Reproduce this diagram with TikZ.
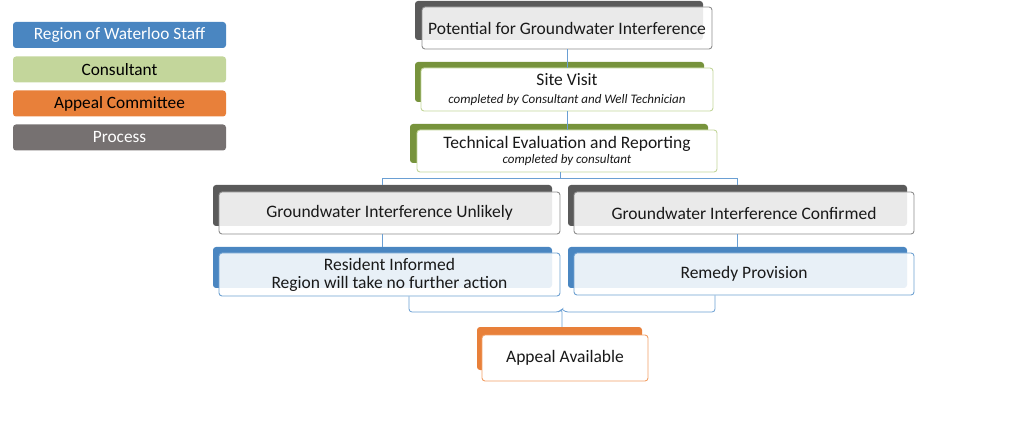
\documentclass[tikz,border=0pt]{standalone}
\usepackage{fontspec}
\setmainfont{Carlito}
\usetikzlibrary{calc}
\definecolor{procD}{HTML}{5A5A5A}
\definecolor{procL}{HTML}{767171}
\definecolor{procE}{HTML}{8E8E8E}
\definecolor{consD}{HTML}{77933C}
\definecolor{consL}{HTML}{C3D69B}
\definecolor{staffD}{HTML}{4A86C1}
\definecolor{staffE}{HTML}{6FA1D2}
\definecolor{appD}{HTML}{E8803A}
\definecolor{appE}{HTML}{F2A066}
\definecolor{connC}{HTML}{6A9FD3}
\newcommand\subtxt{\fontsize{13}{14}\selectfont\itshape}
\tikzset{
  backbox/.style={rounded corners=3pt, inner sep=0pt, draw=none},
  frontbox/.style={rounded corners=3pt, inner sep=0pt, line width=0.9pt, align=center, text opacity=1, draw opacity=1, font=\fontsize{17.5}{19}\selectfont, text=black!90},
  legbox/.style={rounded corners=3pt, inner sep=0pt, minimum width=213pt, minimum height=26pt, font=\fontsize{17.3}{19}\selectfont},
  conn/.style={draw=connC, line width=0.8pt}
}
\begin{document}
\begin{tikzpicture}[x=1pt,y=-1pt]
\useasboundingbox (0,0) rectangle (1024,443);
% legend
\node[legbox, fill=staffD, text=white] (lg1) at (119.5,35) {Region of Waterloo Staff};
\node[legbox, fill=consL, text=black] (lg2) at (119.5,69.5) {Consultant};
\node[legbox, fill=appD, text=black] (lg3) at (119.5,103.5) {Appeal Committee};
\node[legbox, fill=procL, text=white] (lg4) at (119.5,137.5) {Process};
% potential
\node[backbox, fill=procD, minimum width=288pt, minimum height=39pt] (potb) at (559,20.5) {};
\node[frontbox, draw=procE, fill=white, fill opacity=0.88, minimum width=290pt, minimum height=42pt] (pot) at (567,28) {Potential for Groundwater Interference};
% site visit
\node[backbox, fill=consD, minimum width=289pt, minimum height=40pt] (siteb) at (559.5,82) {};
\node[frontbox, draw=consL, fill=white, minimum width=292pt, minimum height=43pt] (site) at (567,89.5) {Site Visit\\[-1pt]{\subtxt completed by Consultant and Well Technician}};
% technical
\node[backbox, fill=consD, minimum width=298pt, minimum height=39pt] (techb) at (559,143.5) {};
\node[frontbox, draw=consL, fill=white, minimum width=300pt, minimum height=42pt] (tech) at (567,151) {Technical Evaluation and Reporting\\[-4pt]{\subtxt completed by consultant}};
% unlikely / confirmed
\node[backbox, fill=procD, minimum width=339pt, minimum height=41pt] (unlb) at (382.5,205.5) {};
\node[frontbox, draw=procE, fill=white, fill opacity=0.88, minimum width=341pt, minimum height=42pt] (unl) at (389.5,213) {Groundwater Interference Unlikely};
\node[backbox, fill=procD, minimum width=339pt, minimum height=41pt] (confb) at (737.5,205.5) {};
\node[frontbox, draw=procE, fill=white, fill opacity=0.88, minimum width=340pt, minimum height=42pt] (conf) at (744,213) {Groundwater Interference Confirmed};
% resident / remedy
\node[backbox, fill=staffD, minimum width=339pt, minimum height=41pt] (resb) at (382.5,267.5) {};
\node[frontbox, draw=staffE, fill=white, fill opacity=0.88, minimum width=341pt, minimum height=43pt] (res) at (389.5,274.5) {Resident Informed\\[-1pt]Region will take no further action};
\node[backbox, fill=staffD, minimum width=339pt, minimum height=41pt] (remb) at (737.5,267.5) {};
\node[frontbox, draw=staffE, fill=white, fill opacity=0.88, minimum width=340pt, minimum height=42pt] (rem) at (744,274) {Remedy Provision};
% appeal
\node[backbox, fill=appD, minimum width=165pt, minimum height=43pt] (appb) at (559.5,348.5) {};
\node[frontbox, draw=appE, fill=white, minimum width=166pt, minimum height=46pt] (app) at (565,358) {Appeal Available};
% connectors
\draw[conn] (pot.south) -- (site.north);
\draw[conn] (site.south) -- (tech.north);
\coordinate (split) at ($(unlb.north)!0.5!(confb.north)$);
\coordinate (hy) at (0,178);
\draw[conn] (tech.south -| split) -- (split |- hy);
\draw[conn] (unlb.north) |- (hy -| confb.north) -- (confb.north);
\draw[conn] (unl.south -| unlb.north) -- (resb.north);
\draw[conn] (conf.south -| confb.north) -- (remb.north);
\coordinate (bl) at ([xshift=19.5pt]res.south);
\coordinate (br) at ([xshift=-29pt]rem.south);
\coordinate (by) at (0,312);
\coordinate (bm) at ($(bl)!0.5!(br)$);
\draw[conn, rounded corners=3pt] (bl) -- (bl |- by) -- ([xshift=-3pt]bm |- by) -- ([yshift=3pt]bm |- by) -- (bm |- appb.north);
\draw[conn, rounded corners=3pt] (br) -- (br |- by) -- ([xshift=3pt]bm |- by) -- ([yshift=3pt]bm |- by);
\end{tikzpicture}
\end{document}
